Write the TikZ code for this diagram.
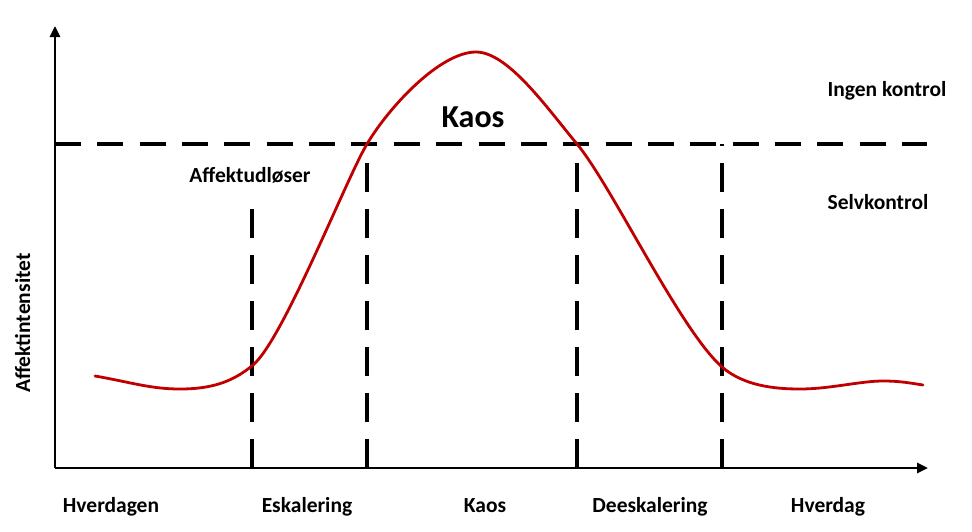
\documentclass[tikz,border=0pt]{standalone}
\usepackage{fontspec}
\setmainfont{Carlito}
\usetikzlibrary{arrows.meta}
\definecolor{curvered}{HTML}{C00000}
\tikzset{
  axisline/.style={line width=2.6pt, -{Triangle[length=11pt,width=10pt]}},
  hdash/.style={line width=3.2pt, dash pattern=on 26pt off 16.35pt},
  vdash/.style={line width=3.2pt, dash pattern=on 29pt off 17pt},
  curveline/.style={line width=2.8pt, color=curvered, line cap=round},
  lbl/.style={font=\fontsize{21.5}{24}\selectfont\bfseries, inner sep=0pt, anchor=base},
  biglbl/.style={font=\fontsize{32}{36}\selectfont\bfseries, inner sep=0pt, anchor=base}
}
\begin{document}
\begin{tikzpicture}[x=1pt,y=-1pt]
\useasboundingbox (0,0) rectangle (972,531);
\fill[white] (0,0) rectangle (972,531);
% axes
\coordinate (origin) at (55,468);
\coordinate (ytop) at (55,26);
\coordinate (xend) at (928,468);
\draw[axisline] (origin) -- (ytop);
\draw[axisline] (origin) -- (xend);
% horizontal dashed threshold
\coordinate (hl) at (55,144);
\coordinate (hr) at (927,144);
\draw[hdash] (hl) -- (hr);
% vertical dashed separators (drawn from axis upward)
\coordinate (v1b) at (252,468); \coordinate (v1t) at (252,202);
\coordinate (v2b) at (367,468); \coordinate (v2t) at (367,144);
\coordinate (v3b) at (577,468); \coordinate (v3t) at (577,144);
\coordinate (v4b) at (722,468); \coordinate (v4t) at (722,144);
\draw[vdash] (v1b) -- (v1t);
\draw[vdash] (v2b) -- (v2t);
\draw[vdash] (v3b) -- (v3t);
\draw[vdash] (v4b) -- (v4t);
% curve
\draw[curveline] (95,376)
  .. controls (130,382) and (150,389) .. (180,389)
  .. controls (215,389) and (235,380) .. (253,365)
  .. controls (283,340) and (347,177) .. (367,144)
  .. controls (389,107) and (440,52) .. (476,52)
  .. controls (508,52) and (547,108) .. (577,144)
  .. controls (612,186) and (680,330) .. (722,367)
  .. controls (744,386) and (775,389) .. (800,389)
  .. controls (830,389) and (860,381) .. (883,381)
  .. controls (900,381) and (910,383) .. (923,385);
% labels
\node[biglbl] (kaosbig) at (473,127) {Kaos};
\node[lbl] (ingen) at (887,96) {Ingen kontrol};
\node[lbl] (selv) at (878,209) {Selvkontrol};
\node[lbl] (udl) at (250,182) {Affektudløser};
\node[lbl, rotate=90] (yl) at (30,323) {Affektintensitet};
\node[lbl] (b1) at (111,512) {Hverdagen};
\node[lbl] (b2) at (307,512) {Eskalering};
\node[lbl] (b3) at (485,512) {Kaos};
\node[lbl] (b4) at (650,512) {Deeskalering};
\node[lbl] (b5) at (828,512) {Hverdag};
\end{tikzpicture}
\end{document}
